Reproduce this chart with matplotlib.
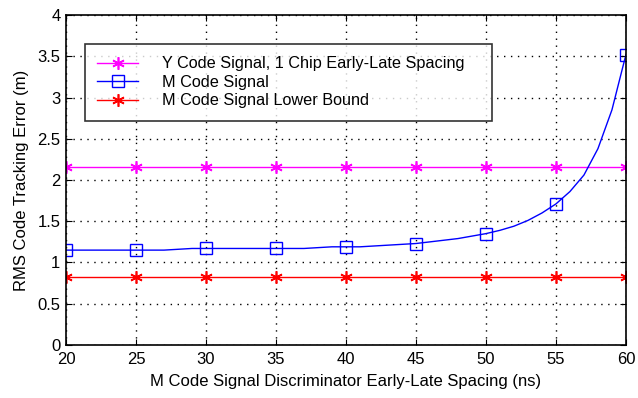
import numpy as np
import matplotlib.pyplot as plt
import matplotlib as mpl

mpl.rcParams["font.family"] = ["Liberation Sans", "DejaVu Sans"]

# early-late spacing (ns), sampled every 1 ns
spacing = np.arange(20, 61)
m_code_rms = [1.15, 1.15, 1.15, 1.15, 1.15, 1.15, 1.15, 1.15, 1.16, 1.17,
              1.17, 1.17, 1.17, 1.17, 1.17, 1.17, 1.17, 1.17, 1.18, 1.19,
              1.19, 1.19, 1.20, 1.21, 1.22, 1.23, 1.25, 1.27, 1.29, 1.32,
              1.35, 1.39, 1.44, 1.51, 1.60, 1.71, 1.86, 2.06, 2.38, 2.85,
              3.52]

marker_x = [20, 25, 30, 35, 40, 45, 50, 55, 60]
y_code_rms = [2.16] * len(marker_x)
m_lower_bound = [0.82] * len(marker_x)

labels = ["Y Code Signal, 1 Chip Early-Late Spacing",
          "M Code Signal",
          "M Code Signal Lower Bound"]

ASTERISK = (6, 2, 0)

fig = plt.figure(figsize=(6.38, 3.98), dpi=100)
ax = fig.add_axes([0.1034, 0.1332, 0.8777, 0.8291])

ax.plot(marker_x, y_code_rms, color="magenta", marker=ASTERISK, markersize=9,
        linewidth=1.0, markeredgewidth=1.2, label=labels[0])
mark_idx = [list(spacing).index(v) for v in marker_x]
ax.plot(spacing, m_code_rms, color="blue", marker="s", markersize=8,
        markerfacecolor="none", markeredgewidth=1.0, linewidth=1.0,
        markevery=mark_idx, label=labels[1])
ax.plot(marker_x, m_lower_bound, color="red", marker=ASTERISK, markersize=9,
        linewidth=1.0, markeredgewidth=1.2, label=labels[2])

ax.set_xlim(20, 60)
ax.set_ylim(0, 4)
ax.set_xticks(range(20, 61, 5))
ax.set_yticks(np.arange(0, 4.01, 0.5))
ax.set_yticklabels(["0", "0.5", "1", "1.5", "2", "2.5", "3", "3.5", "4"])
ax.grid(True, color="black", linestyle=(0, (1, 4)), linewidth=1.0)
ax.tick_params(direction="in", top=True, right=True, labelsize=12, length=4)
ax.tick_params(axis="x", pad=5)
ax.tick_params(axis="y", pad=4)
for sp in ax.spines.values():
    sp.set_linewidth(1.2)

ax.set_xlabel("M Code Signal Discriminator Early-Late Spacing (ns)", fontsize=12, labelpad=5)
ax.set_ylabel("RMS Code Tracking Error (m)", fontsize=12, labelpad=6)

# legend box stretched to a fixed width, entries left-aligned
leg = ax.legend(loc="upper left", bbox_to_anchor=(0.034, 0.912, 0.727, 0.0),
                mode="expand", fontsize=11.7,
                frameon=True, fancybox=False, edgecolor="black",
                handlelength=2.5, handletextpad=1.5, borderpad=0.75,
                borderaxespad=0, labelspacing=0.22)
leg.get_frame().set_linewidth(1.2)

fig.savefig("out.png", dpi=100)
